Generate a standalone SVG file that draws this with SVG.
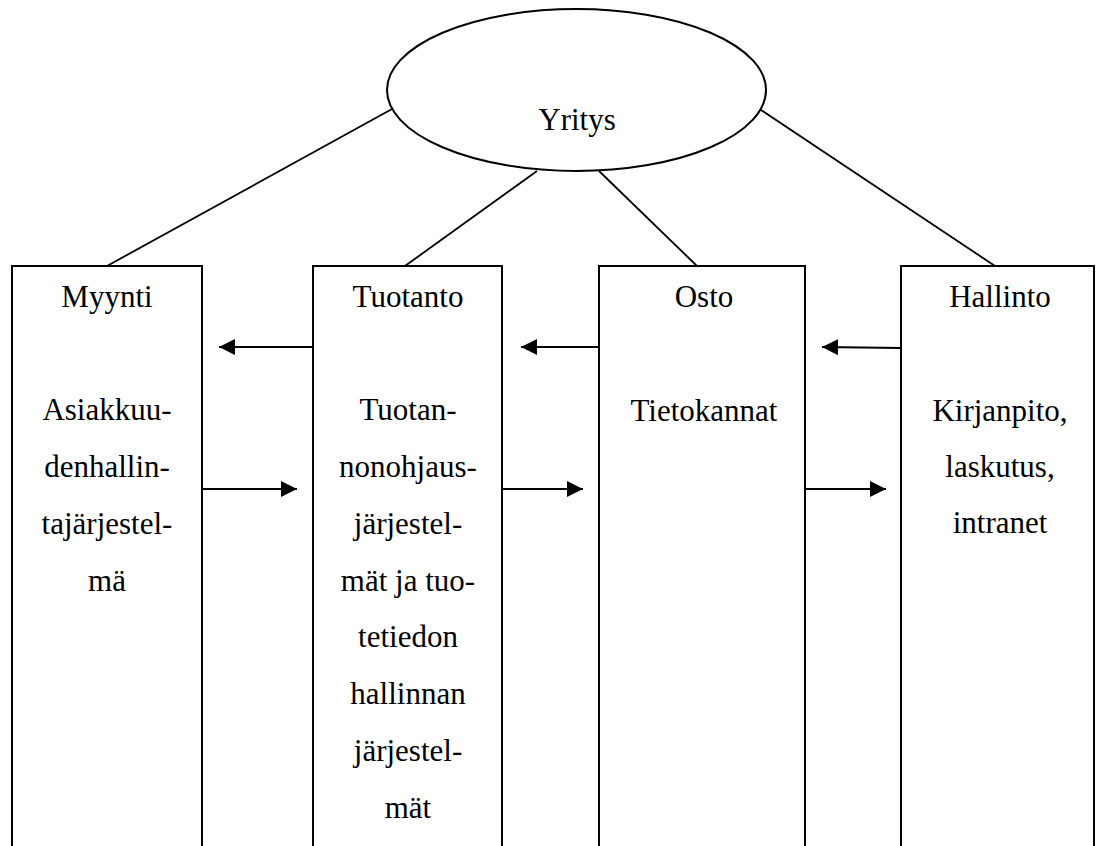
<svg xmlns="http://www.w3.org/2000/svg" width="1100" height="846" viewBox="0 0 1100 846">
<style>
.shape{fill:#fff;stroke:#000;stroke-width:2}
.con{stroke:#000;stroke-width:1.8;fill:none}
text{font-family:"Liberation Serif","Times New Roman",serif;font-size:31px;fill:#000;text-anchor:middle}
</style>
<defs>
<marker id="ah" viewBox="0 0 16 16" refX="16" refY="8" markerWidth="16" markerHeight="16" markerUnits="userSpaceOnUse" orient="auto">
<path d="M0,0 L16,8 L0,16 z" fill="#000"/>
</marker>
</defs>
<rect width="1100" height="846" fill="#fff"/>
<g id="connectors">
<line class="con" x1="107" y1="266" x2="392" y2="109"/>
<line class="con" x1="405" y1="266" x2="537" y2="171"/>
<line class="con" x1="697" y1="266" x2="599" y2="171"/>
<line class="con" x1="995" y1="266" x2="758" y2="108"/>
<line class="con" x1="313" y1="347" x2="219" y2="347" marker-end="url(#ah)"/>
<line class="con" x1="599" y1="347" x2="521" y2="347" marker-end="url(#ah)"/>
<line class="con" x1="901" y1="348" x2="822" y2="347" marker-end="url(#ah)"/>
<line class="con" x1="202" y1="489" x2="297" y2="489" marker-end="url(#ah)"/>
<line class="con" x1="502" y1="489" x2="583" y2="489" marker-end="url(#ah)"/>
<line class="con" x1="805" y1="489" x2="886" y2="489" marker-end="url(#ah)"/>
</g>
<g id="yritys">
<ellipse class="shape" cx="576.5" cy="90" rx="189.5" ry="81"/>
<text x="577" y="130">Yritys</text>
</g>
<g id="myynti">
<rect class="shape" x="12" y="266" width="190" height="600"/>
<text x="107" y="307">Myynti</text>
<text x="107" y="420">Asiakkuu-</text>
<text x="107" y="477">denhallin-</text>
<text x="107" y="534">tajärjestel-</text>
<text x="107" y="591">mä</text>
</g>
<g id="tuotanto">
<rect class="shape" x="313" y="266" width="189" height="600"/>
<text x="408" y="307">Tuotanto</text>
<text x="408" y="420">Tuotan-</text>
<text x="408" y="477">nonohjaus-</text>
<text x="408" y="534">järjestel-</text>
<text x="408" y="591">mät ja tuo-</text>
<text x="408" y="647">tetiedon</text>
<text x="408" y="704">hallinnan</text>
<text x="408" y="761">järjestel-</text>
<text x="408" y="818">mät</text>
</g>
<g id="osto">
<rect class="shape" x="599" y="266" width="206" height="600"/>
<text x="704" y="307">Osto</text>
<text x="704" y="421">Tietokannat</text>
</g>
<g id="hallinto">
<rect class="shape" x="901" y="266" width="193" height="600"/>
<text x="1000" y="307">Hallinto</text>
<text x="1000" y="421">Kirjanpito,</text>
<text x="1000" y="477">laskutus,</text>
<text x="1000" y="533">intranet</text>
</g>
</svg>
